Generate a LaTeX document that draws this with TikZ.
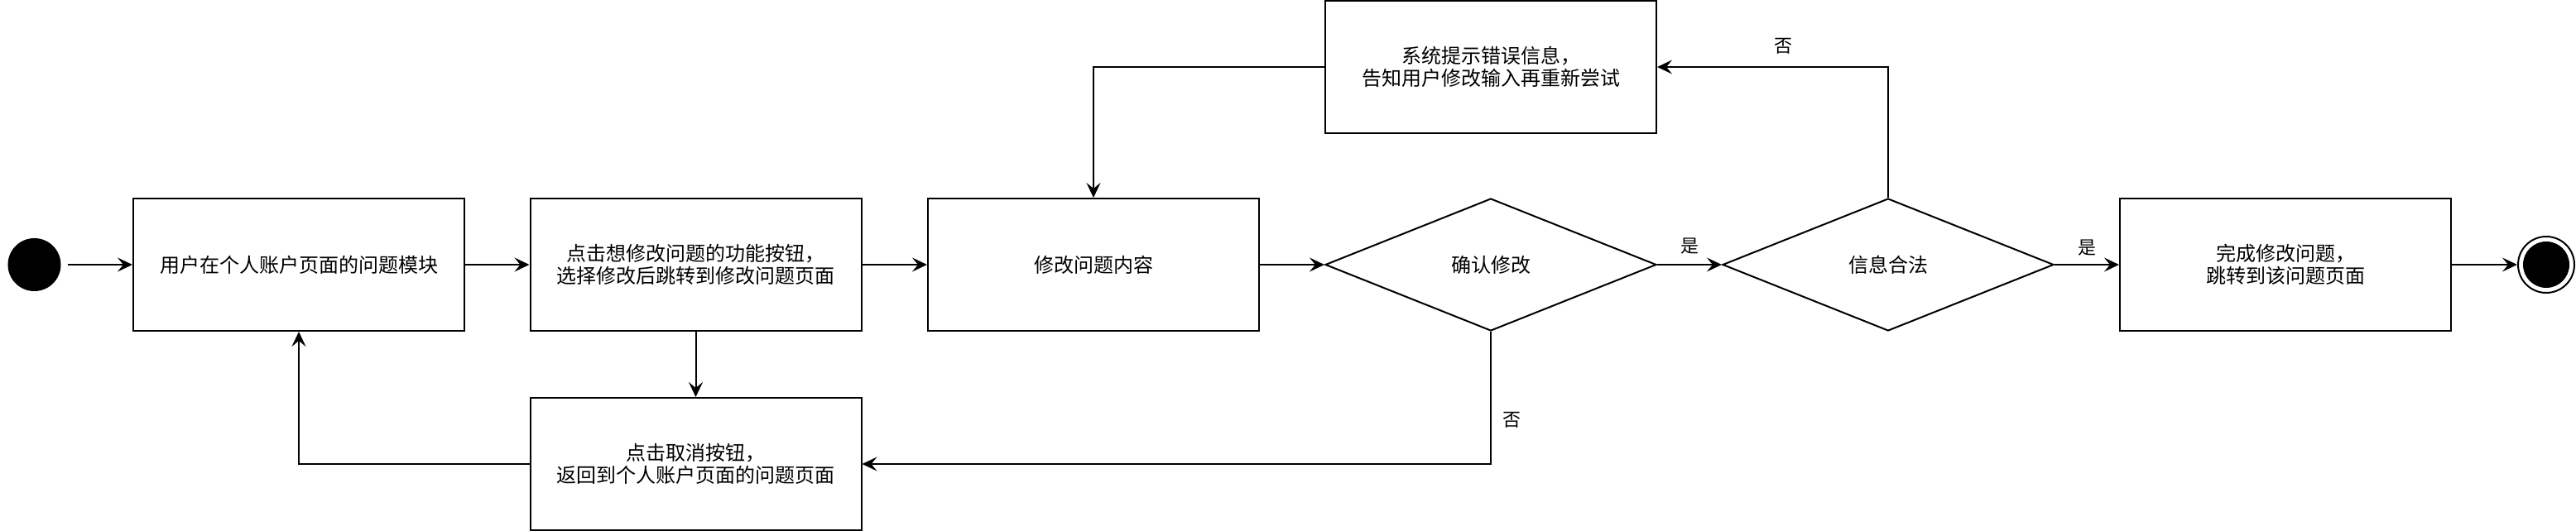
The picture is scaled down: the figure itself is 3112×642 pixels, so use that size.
\documentclass[tikz,border=0pt]{standalone}
\usepackage{fontspec}
\newfontfamily\cjk{Noto Sans CJK SC}
\usetikzlibrary{shapes.geometric,arrows.meta}
\begin{document}
\begin{tikzpicture}[x=0.5pt,y=-0.5pt,
  line width=1pt,
  box/.style={draw, rectangle, minimum width=200pt, minimum height=80pt, inner sep=0pt, align=center, font=\cjk\fontsize{12pt}{13.5pt}\selectfont},
  dia/.style={draw, diamond, minimum width=200pt, minimum height=80pt, inner sep=0pt, align=center, font=\cjk\fontsize{12pt}{13.5pt}\selectfont},
  lbl/.style={font=\cjk\fontsize{11pt}{13pt}\selectfont, inner sep=0pt},
  arr/.style={-{Stealth[length=9pt,width=8.5pt,inset=3.5pt]}}
]
\useasboundingbox (0,0) rectangle (3112,642);
\node[circle, fill=black, draw=black, minimum size=31pt, inner sep=0pt] (start) at (41.5,320) {};
\node[box] (b1) at (361,320) {用户在个人账户页面的问题模块};
\node[box] (b2) at (840.5,320) {点击想修改问题的功能按钮，\\选择修改后跳转到修改问题页面};
\node[box] (b3) at (1321,320) {修改问题内容};
\node[dia] (d1) at (1801,320) {确认修改};
\node[dia] (d2) at (2281,320) {信息合法};
\node[box] (b4) at (2761,320) {完成修改问题，\\跳转到该问题页面};
\node[circle, draw=black, fill=white, minimum size=34pt, inner sep=0pt] (end) at (3076,320) {};
\node[circle, fill=black, minimum size=28pt, inner sep=0pt] (endin) at (end) {};
\node[box] (err) at (1801,81) {系统提示错误信息，\\告知用户修改输入再重新尝试};
\node[box] (cancel) at (840.5,561) {点击取消按钮，\\返回到个人账户页面的问题页面};

\draw[arr, shorten <=4pt] (start) -- (b1);
\draw[arr] (b1) -- (b2);
\draw[arr] (b2) -- (b3);
\draw[arr] (b3) -- (d1);
\draw[arr] (d1) -- node[lbl, yshift=11pt] (l1) {是} (d2);
\draw[arr] (d2) -- node[lbl, yshift=10pt] (l2) {是} (b4);
\draw[arr] (b4) -- (end);
\draw[arr] (b2) -- (cancel);
\draw[arr] (cancel.west) -| (b1.south);
\draw[arr] (d1.south) |- node[lbl, pos=0.335, xshift=12.5pt] (l3) {否} (cancel.east);
\draw[arr] (d2.north) |- node[lbl, pos=0.727, yshift=12.5pt] (l4) {否} (err.east);
\draw[arr] (err.west) -| (b3.north);
\end{tikzpicture}
\end{document}
